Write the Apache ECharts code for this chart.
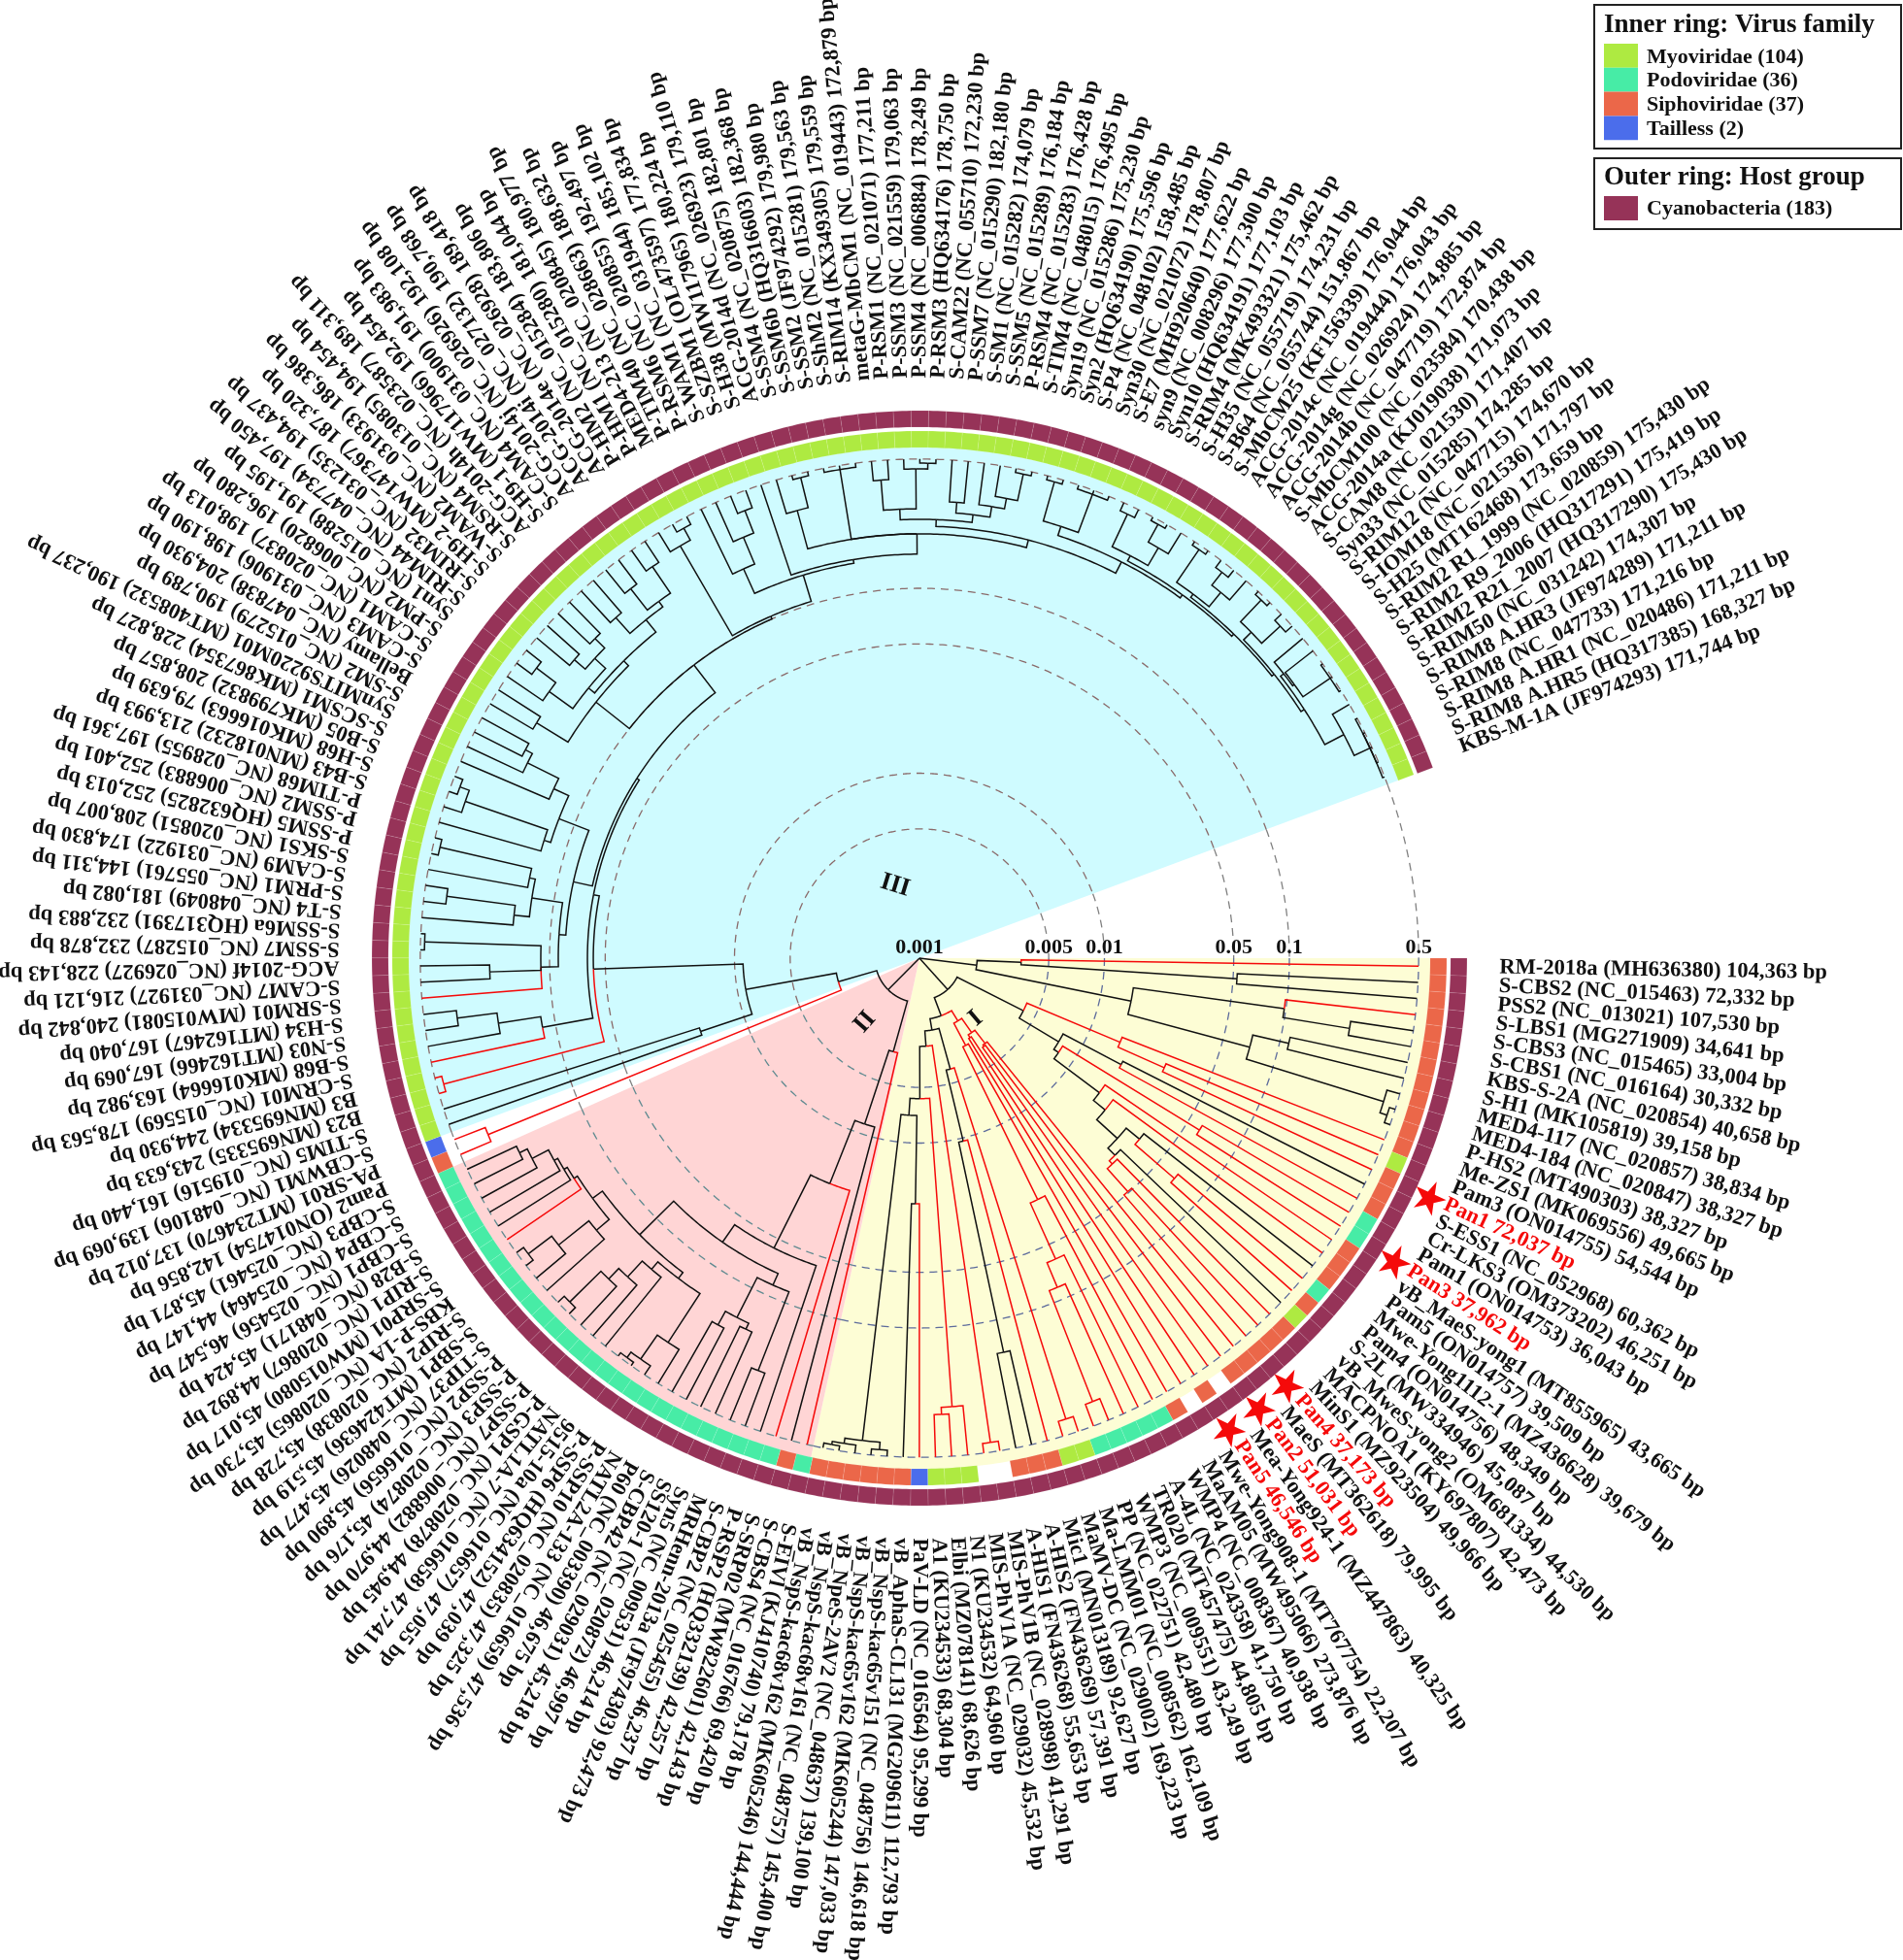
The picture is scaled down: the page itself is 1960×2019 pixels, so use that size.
<!DOCTYPE html>
<html>
<head>
<meta charset="utf-8">
<title>Cyanophage tree</title>
<script src="https://cdn.jsdelivr.net/npm/echarts@6/dist/echarts.min.js"></script>
<style>
html,body{margin:0;background:#fff}
#chart{width:1960px;height:2019px}
</style>
</head>
<body>
<div id="chart"></div>
<script>
// tip labels, clockwise from east
var tipLabels = [
'RM-2018a (MH636380) 104,363 bp','S-CBS2 (NC_015463) 72,332 bp','PSS2 (NC_013021) 107,530 bp','S-LBS1 (MG271909) 34,641 bp','S-CBS3 (NC_015465) 33,004 bp','S-CBS1 (NC_016164) 30,332 bp','KBS-S-2A (NC_020854) 40,658 bp','S-H1 (MK105819) 39,158 bp','MED4-117 (NC_020857) 38,834 bp','MED4-184 (NC_020847) 38,327 bp',
'P-HS2 (MT490303) 38,327 bp','Me-ZS1 (MK069556) 49,665 bp','Pam3 (ON014755) 54,544 bp','Pan1 72,037 bp','S-ESS1 (NC_052968) 60,362 bp','Cr-LKS3 (OM373202) 46,251 bp','Pam1 (ON014753) 36,043 bp','Pan3 37,962 bp','vB_MaeS-yong1 (MT855965) 43,665 bp','Pam5 (ON014757) 39,509 bp',
'Mwe-Yong1112-1 (MZ436628) 39,679 bp','Pam4 (ON014756) 48,349 bp','S-2L (MW334946) 45,087 bp','vB_MweS-yong2 (OM681334) 44,530 bp','MACPNOA1 (KY697807) 42,473 bp','MinS1 (MZ923504) 49,966 bp','Pan4 37,173 bp','MaeS (MT362618) 79,995 bp','Pan2 51,031 bp','Mea-Yong924-1 (MZ447863) 40,325 bp',
'Pan5 46,546 bp','Mwe-Yong908-1 (MT767754) 22,207 bp','MaAM05 (MW495066) 273,876 bp','WMP4 (NC_008367) 40,938 bp','A-4L (NC_024358) 41,750 bp','TR020 (MT457475) 44,805 bp','WMP3 (NC_009551) 43,249 bp','PP (NC_022751) 42,480 bp','Ma-LMM01 (NC_008562) 162,109 bp','MaMV-DC (NC_029002) 169,223 bp',
'Mic1 (MN013189) 92,627 bp','A-HIS2 (FN436269) 57,391 bp','A-HIS1 (FN436268) 55,653 bp','MIS-PhV1B (NC_028998) 41,291 bp','MIS-PhV1A (NC_029032) 45,532 bp','N1 (KU234532) 64,960 bp','Elbi (MZ078141) 68,626 bp','A1 (KU234533) 68,304 bp','PaV-LD (NC_016564) 95,299 bp','vB_AphaS-CL131 (MG209611) 112,793 bp',
'vB_NspS-kac65v151 (NC_048756) 146,618 bp','vB_NspS-kac65v162 (MK605244) 147,033 bp','vB_NpeS-2AV2 (NC_048637) 139,100 bp','vB_NspS-kac68v161 (NC_048757) 145,400 bp','vB_NspS-kac68v162 (MK605246) 144,444 bp','S-EIVl (KJ410740) 79,178 bp','S-CBS4 (NC_016766) 69,420 bp','S-SRP02 (MW822601) 42,143 bp','P-RSP2 (HQ332139) 42,257 bp','S-CBP2 (NC_025455) 46,237 bp',
'MRHenn-2013a (JF974303) 92,473 bp','Syn5 (NC_009531) 46,214 bp','SS120-1 (NC_020872) 46,997 bp','S-CBP42 (NC_029031) 45,218 bp','P60 (NC_003390) 46,675 bp','NATL2A-133 (NC_016659) 47,536 bp','P-SSP10 (NC_020835) 47,325 bp','P-SSP6 (HQ634152) 47,039 bp','9515-10a (NC_016657) 47,055 bp','NATL1A-7 (NC_016658) 47,741 bp',
'P-GSP1 (NC_020878) 44,945 bp','P-SSP7 (NC_006882) 44,970 bp','P-SSP3 (NC_020874) 45,176 bp','P-SSP2 (NC_016656) 45,890 bp','S-TIP37 (NC_048026) 45,477 bp','S-SBP1 (MT424636) 45,519 bp','S-RIP2 (NC_020838) 45,728 bp','KBS-P-1A (NC_020865) 45,730 bp','S-SRP01 (MW015080) 45,017 bp','S-RIP1 (NC_020867) 44,892 bp',
'S-B28 (NC_048171) 45,424 bp','S-CBP1 (NC_025456) 46,547 bp','S-CBP4 (NC_025464) 44,147 bp','S-CBP3 (NC_025461) 45,871 bp','Pam2 (ON014754) 142,856 bp','PA-SR01 (MT234670) 137,012 bp','S-CBWM1 (NC_048106) 139,069 bp','S-TIM5 (NC_019516) 161,440 bp','B23 (MN695335) 243,633 bp','B3 (MN695334) 244,930 bp',
'S-CRM01 (NC_015569) 178,563 bp','S-B68 (MK016664) 163,982 bp','S-N03 (MT162466) 167,069 bp','S-H34 (MT162467) 167,040 bp','S-SRM01 (MW015081) 240,842 bp','S-CAM7 (NC_031927) 216,121 bp','ACG-2014f (NC_026927) 228,143 bp','S-SSM7 (NC_015287) 232,878 bp','S-SSM6a (HQ317391) 232,883 bp','S-T4 (NC_048049) 181,082 bp',
'S-PRM1 (NC_055761) 144,311 bp','S-CAM9 (NC_031922) 174,830 bp','S-SKS1 (NC_020851) 208,007 bp','P-SSM5 (HQ632825) 252,013 bp','P-SSM2 (NC_006883) 252,401 bp','P-TIM68 (NC_028955) 197,361 bp','S-B43 (MN018232) 213,993 bp','S-H68 (MK016663) 79,639 bp','S-B05 (MK799832) 208,857 bp','S-SCSM1 (MK867354) 228,827 bp',
'SynMITS9220M01 (MT408532) 190,237 bp','S-SM2 (NC_015279) 190,789 bp','Bellamy (NC_047838) 204,930 bp','S-CAM3 (NC_031906) 198,190 bp','S-CAM1 (NC_020837) 198,013 bp','S-PM2 (NC_006820) 196,280 bp','Syn1 (NC_015288) 191,195 bp','S-RIM44 (NC_047734) 197,450 bp','S-RIM32 (NC_031235) 194,437 bp','S-H9-2 (MW147367) 187,320 bp',
'S-WAM2 (NC_031933) 186,386 bp','S-RSM4 (NC_013085) 194,454 bp','ACG-2014h (NC_023587) 189,311 bp','S-H9-1 (MW117966) 192,454 bp','S-CAM4 (NC_031900) 191,983 bp','ACG-2014j (NC_026926) 192,108 bp','ACG-2014i (NC_027132) 190,768 bp','ACG-2014e (NC_026928) 189,418 bp','P-HM2 (NC_015284) 183,806 bp','P-HM1 (NC_015280) 181,044 bp',
'MED4-213 (NC_020845) 180,977 bp','P-TIM40 (NC_028663) 188,632 bp','P-RSM6 (NC_020855) 192,497 bp','S-WAM1 (NC_031944) 185,102 bp','S-SZBM1 (OL473597) 177,834 bp','S-H38 (MW117965) 180,224 bp','ACG-2014d (NC_026923) 179,110 bp','S-SSM4 (NC_020875) 182,801 bp','S-SSM6b (HQ316603) 182,368 bp','S-SSM2 (JF974292) 179,980 bp',
'S-ShM2 (NC_015281) 179,563 bp','S-RIM14 (KX349305) 179,559 bp','metaG-MbCM1 (NC_019443) 172,879 bp','P-RSM1 (NC_021071) 177,211 bp','P-SSM3 (NC_021559) 179,063 bp','P-SSM4 (NC_006884) 178,249 bp','P-RSM3 (HQ634176) 178,750 bp','S-CAM22 (NC_055710) 172,230 bp','P-SSM7 (NC_015290) 182,180 bp','S-SM1 (NC_015282) 174,079 bp',
'S-SSM5 (NC_015289) 176,184 bp','P-RSM4 (NC_015283) 176,428 bp','S-TIM4 (NC_048015) 176,495 bp','Syn19 (NC_015286) 175,230 bp','Syn2 (HQ634190) 175,596 bp','S-P4 (NC_048102) 158,485 bp','Syn30 (NC_021072) 178,807 bp','S-E7 (MH920640) 177,622 bp','syn9 (NC_008296) 177,300 bp','Syn10 (HQ634191) 177,103 bp',
'S-RIM4 (MK493321) 175,462 bp','S-H35 (NC_055719) 174,231 bp','S-B64 (NC_055744) 151,867 bp','S-MbCM25 (KF156339) 176,044 bp','ACG-2014c (NC_019444) 176,043 bp','ACG-2014g (NC_026924) 174,885 bp','ACG-2014b (NC_047719) 172,874 bp','S-MbCM100 (NC_023584) 170,438 bp','ACG-2014a (KJ019038) 171,073 bp','S-CAM8 (NC_021530) 171,407 bp',
'Syn33 (NC_015285) 174,285 bp','S-RIM12 (NC_047715) 174,670 bp','S-IOM18 (NC_021536) 171,797 bp','S-H25 (MT162468) 173,659 bp','S-RIM2 R1_1999 (NC_020859) 175,430 bp','S-RIM2 R9_2006 (HQ317291) 175,419 bp','S-RIM2 R21_2007 (HQ317290) 175,430 bp','S-RIM50 (NC_031242) 174,307 bp','S-RIM8 A.HR3 (JF974289) 171,211 bp','S-RIM8 (NC_047733) 171,216 bp',
'S-RIM8 A.HR1 (NC_020486) 171,211 bp','S-RIM8 A.HR5 (HQ317385) 168,327 bp','KBS-M-1A (JF974293) 171,744 bp'
];
var starCells = [14, 18, 27, 29, 31];

// inner ring, clockwise: [family, number of cells]; W = no family
var familyRuns = [['S',12],['M',1],['S',3],['P',2],['S',3],['P',1],['S',1],['M',1],['S',5],['W',1],['S',1],['W',1],['S',1],['P',5],['M',2],['S',3],['W',2],['M',3],['T',1],['S',6],['P',1],['S',1],['P',27],['S',1],['T',1],['M',97]];
var familyNames = {M:'Myoviridae (104)', P:'Podoviridae (36)', S:'Siphoviridae (37)', T:'Tailless (2)'};
var hostNames = ['Cyanobacteria (183)'];

// distance ticks
var distanceTicks = [0.001, 0.005, 0.01, 0.05, 0.1, 0.5];

// tree text: tips are taken in label order, . black tip, r red tip, )0.05 node at that distance, trailing r = red branch
var cladeIa = '((r,(.,.)0.0525)0.00355,((r,(.,.)0.227)0.098,((.,.)0.112,(.,(.,.)0.464)0.423)0.0707)0.0147)0.00205';
var cladeIb = '(((r,(r,r)0.0282r)0.015r,((.,r)0.0171,((r,r)0.0598r,(r,(r,((.,(r,r)0.0664r)0.0347,(.,(r,(r,r)0.0492r)0.0335r)0.0317)0.028)0.0198)0.0164)0.0081)0.00755)0.00426,'
  + '((((r,(r,r)0.0039r)0.00382r,(r,r)0.00323r)0.0031r,(r,(r,(r,(r,(r,r)0.375r)0.0851r)0.061r)0.0284r)0.00342r)0.0025r,'
  + '(((r,r)0.412r,(r,(.,.)0.151)0.0104)0.00419,((r,r)0.443r,((r,(r,r)0.295r)0.27r,((r,.)0.0213,((.,.)0.464,(.,(.,.)0.47)0.452)0.423)0.0071)0.00575)0.003)0.00248)0.00215)0.00169';
var cladeII = '(r,(.,(r,(.,(((.,.)0.248,((.,.)0.164,(.,.)0.183)0.151)0.0865,'
  + '(((.,(.,(.,.)0.475)0.437)0.304,(.,(.,(.,(.,.)0.448)0.26)0.217)0.166)0.147,'
  + '((.,(.,(.,.)0.448)0.311)0.192,(r,(.,(.,(.,(.,.)0.254)0.228)0.181)0.172)0.164)0.156)0.134)0.0739)0.0567)0.0205)0.0088)0.00335';
var cladeIIIbase = '((r,r)0.331r,((.,.)0.0177,((r,r)0.458r,((r,(.,(.,.)0.331)0.201)0.118,';
var cladeIIIleft = '(((r,(.,.)0.211,(.,.)0.475)0.1115,((.,(.,.)0.378)0.16,(.,(.,.)0.458)0.142)0.132)0.0897,'
  + '((.,(.,(.,.)0.448)0.396)0.134,(.,(.,(.,.)0.257)0.233)0.151)0.123)0.0824';
var cladeIIImid = '(((.,.)0.269,(((.,(.,.)0.396)0.293,((.,.)0.293,(.,.)0.29)0.245)0.204,((.,.)0.293,((.,.)0.343,(.,.)0.365)0.245)0.225)0.185)0.17,'
  + '((.,(.,.)0.448)0.378,((.,(.,(.,.)0.396)0.293)0.204,';
var cladeIIItop = '(.,((.,(.,.)0.475)0.323,(.,.,.)0.475,'
  + '((((.,.)0.392,(.,(.,.)0.475)0.442)0.269,((.,.)0.297,(.,(.,(.,.)0.475)0.339)0.297)0.26)0.236,'
  + '(((.,.)0.475,(.,.,.)0.475)0.286,(((.,.)0.448,((.,.)0.475,.)0.369)0.286,'
  + '(((.,.)0.475,((.,.)0.448,.)0.365)0.29,'
  + '(((.,.)0.475,(.,.)0.448)0.327,((.,(.,(.,.,.)0.487)0.323)0.315,(.,(.,.,.,.,.)0.487)0.392)0.3)0.286)0.276)0.266)0.254)0.217)0.197)0.153';
var treeText = '(' + cladeIa + ',' + cladeIb + ',(' + cladeII + ',' + cladeIIIbase + '(' + cladeIIIleft + ',' + cladeIIImid + cladeIIItop
  + ')0.146)0.1037)0.1)0.0647)0.0624)0.058)0.009)0.00286)0.00174)0.001';

// layout, in axis units
var fullTurn = 193.97;       // cells in a full circle
var tipDistance = 0.5;
var fillDistance = 0.58;
var famRing = [0.577, 0.709];
var hostRing = [0.744, 0.913];
var starDistance = 1.11;
var labelDistance = 1.37;
var fills = [[0, 55.1, '#FDFDD5'], [55.1, 84, '#FFD5D5'], [86, 183, '#CFFBFF']];
var dashZones = [[0, 55.1, '#5d6b9c'], [55.1, 84, '#5f8a90'], [84, 86, '#808080'], [86, 183, '#8a6a6a'], [183, fullTurn, '#808080']];
var famColors = {M:'#AEEA41', P:'#47ECA6', S:'#EB6749', T:'#4B6DEB'};
var hostColor = '#963358';
var cellEdge = 'rgba(255,255,255,0.1)';

// parse the tree text
function parseTree(text) {
    var pos = 0, tip = 0;
    function node() {
        var c = text[pos];
        if (c === '.' || c === 'r') {
            pos++;
            tip++;
            return {angle: tip - 0.5, dist: tipDistance, red: c === 'r', kids: []};
        }
        pos++; // (
        var kids = [node()];
        while (text[pos] === ',') { pos++; kids.push(node()); }
        pos++; // )
        var start = pos;
        while (/[0-9.]/.test(text[pos] || '')) pos++;
        var dist = parseFloat(text.slice(start, pos));
        var red = false;
        if (text[pos] === 'r') { red = true; pos++; }
        return {angle: (kids[0].angle + kids[kids.length - 1].angle) / 2, dist: dist, red: red, kids: kids};
    }
    return node();
}

function arcPoints(dist, a0, a1) {
    var n = Math.max(1, Math.ceil(Math.abs(a1 - a0) / 0.25)), pts = [];
    for (var i = 0; i <= n; i++) pts.push([dist, a0 + (a1 - a0) * i / n]);
    return pts;
}

// each child gets its stem plus the half of the parent's arc that leads to it
var segments = [];
function collect(n) {
    n.kids.forEach(function (k) {
        var pts = arcPoints(n.dist, n.angle, k.angle);
        pts.push([k.dist, k.angle]);
        segments.push({pts: pts, color: k.red ? '#F50A0A' : '#111111'});
        collect(k);
    });
}
collect(parseTree(treeText));

var famCells = [];
familyRuns.forEach(function (run) {
    for (var i = 0; i < run[1]; i++) famCells.push(run[0]);
});

function sectorPoints(r0, r1, a0, a1) {
    return arcPoints(r1, a0, a1).concat(arcPoints(r0, a1, a0));
}

function polygonItem(api, pts, fill, stroke) {
    return {
        type: 'polygon',
        shape: {points: pts.map(function (p) { return api.coord(p); })},
        style: {fill: fill, stroke: stroke || null, lineWidth: 1}
    };
}

var myChart = echarts.init(document.getElementById('chart'));
var serif = '"Liberation Serif", "Times New Roman", serif';

var legendItems = [];
var famKeys = ['M', 'P', 'S', 'T'];
famKeys.forEach(function (k, i) {
    legendItems.push({type: 'rect', shape: {x: 1652, y: 45 + i * 24.8, width: 35, height: 24.8}, style: {fill: famColors[k]}});
    legendItems.push({type: 'text', x: 1696, y: 59 + i * 24.8, style: {text: familyNames[k], font: 'bold 22px ' + serif, fill: '#111', textVerticalAlign: 'middle'}});
});

function romanLabel(text, x, y, rot) {
    return {type: 'text', z: 20, x: x, y: y, rotation: rot, style: {text: text, font: 'bold 26px ' + serif, fill: '#111', textAlign: 'center', textVerticalAlign: 'middle'}};
}

myChart.setOption({
    animation: false,
    backgroundColor: '#fff',
    polar: {center: [947, 987], radius: 762},
    radiusAxis: {type: 'log', logBase: 10, min: 0.001, max: 10, show: false},
    angleAxis: {type: 'value', min: 0, max: fullTurn, startAngle: 0, clockwise: true, show: false},
    graphic: legendItems.concat([
        {type: 'rect', shape: {x: 1642, y: 5, width: 316, height: 148}, style: {fill: 'none', stroke: '#222', lineWidth: 2}},
        {type: 'text', x: 1652, y: 26, style: {text: 'Inner ring: Virus family', font: 'bold 27px ' + serif, fill: '#111', textVerticalAlign: 'middle'}},
        {type: 'rect', shape: {x: 1642, y: 163, width: 316, height: 73}, style: {fill: 'none', stroke: '#222', lineWidth: 2}},
        {type: 'text', x: 1652, y: 183, style: {text: 'Outer ring: Host group', font: 'bold 27px ' + serif, fill: '#111', textVerticalAlign: 'middle'}},
        {type: 'rect', shape: {x: 1652, y: 202, width: 35, height: 25}, style: {fill: hostColor}},
        {type: 'text', x: 1696, y: 215, style: {text: hostNames[0], font: 'bold 22px ' + serif, fill: '#111', textVerticalAlign: 'middle'}},
        romanLabel('I', 1005, 1049, 0.7),
        romanLabel('II', 891, 1053, 0.85),
        romanLabel('III', 922, 912, -0.3)
    ]),
    series: [
        {
            // clade backgrounds
            type: 'custom', coordinateSystem: 'polar', silent: true, z: 1,
            data: fills.map(function (f) { return [fillDistance, f[0]]; }),
            renderItem: function (params, api) {
                var f = fills[params.dataIndex];
                return polygonItem(api, [[0.001, f[0]]].concat(arcPoints(fillDistance, f[0], f[1])), f[2]);
            }
        },
        {
            // dashed distance circles, one piece per background colour
            type: 'custom', coordinateSystem: 'polar', silent: true, z: 2,
            data: distanceTicks.slice(1).map(function (t) { return [t, 0]; }),
            renderItem: function (params, api) {
                var t = distanceTicks[params.dataIndex + 1];
                return {
                    type: 'group',
                    children: dashZones.map(function (z) {
                        return {
                            type: 'polyline',
                            shape: {points: arcPoints(t, z[0], z[1]).map(function (p) { return api.coord(p); })},
                            style: {fill: null, stroke: z[2], lineWidth: 1.3, lineDash: [8, 6]}
                        };
                    })
                };
            }
        },
        {
            // branches
            type: 'custom', coordinateSystem: 'polar', silent: true, z: 3,
            data: segments.map(function (s) { return s.pts[0]; }),
            renderItem: function (params, api) {
                var s = segments[params.dataIndex];
                return {
                    type: 'polyline',
                    shape: {points: s.pts.map(function (p) { return api.coord(p); })},
                    style: {fill: null, stroke: s.color, lineWidth: 1.5, lineJoin: 'miter'}
                };
            }
        },
        {
            // inner ring
            type: 'custom', coordinateSystem: 'polar', silent: true, z: 4,
            data: famCells.map(function (f, i) { return [famRing[0], i + 0.5]; }),
            renderItem: function (params, api) {
                var k = famCells[params.dataIndex], i = params.dataIndex;
                if (k === 'W') return null;
                return polygonItem(api, sectorPoints(famRing[0], famRing[1], i, i + 1), famColors[k], cellEdge);
            }
        },
        {
            // outer ring
            type: 'custom', coordinateSystem: 'polar', silent: true, z: 4,
            data: tipLabels.map(function (t, i) { return [hostRing[0], i + 0.5]; }),
            renderItem: function (params, api) {
                var i = params.dataIndex;
                return polygonItem(api, sectorPoints(hostRing[0], hostRing[1], i, i + 1), hostColor, cellEdge);
            }
        },
        {
            type: 'scatter', coordinateSystem: 'polar', silent: true, z: 5,
            symbol: 'path://M50 0L61 35L98 35L68 57L79 91L50 70L21 91L32 57L2 35L39 35Z',
            symbolSize: 34, symbolRotate: -25,
            itemStyle: {color: '#F50A0A', opacity: 1},
            data: starCells.map(function (c) { return [starDistance, c - 0.5]; })
        },
        {
            // tip labels, turned with the radius
            type: 'custom', coordinateSystem: 'polar', silent: true, z: 6,
            data: tipLabels.map(function (t, i) { return [labelDistance, i + 0.5]; }),
            renderItem: function (params, api) {
                var t = tipLabels[params.dataIndex];
                var a = params.dataIndex + 0.5;
                var c = api.coord([labelDistance, a]);
                return {
                    type: 'text', x: c[0], y: c[1],
                    rotation: -a / fullTurn * 2 * Math.PI,
                    style: {text: t, font: 'bold 22.5px ' + serif, fill: /^Pan\d/.test(t) ? '#F50A0A' : '#111', textAlign: 'left', textVerticalAlign: 'middle'}
                };
            }
        },
        {
            // distance tick labels
            type: 'custom', coordinateSystem: 'polar', silent: true, z: 6,
            data: distanceTicks.map(function (t) { return [t, 0]; }),
            renderItem: function (params, api) {
                var t = distanceTicks[params.dataIndex];
                var c = api.coord([t, 0]);
                return {
                    type: 'text', x: c[0], y: c[1] - 11,
                    style: {text: String(t), font: 'bold 22px ' + serif, fill: '#111', textAlign: 'center', textVerticalAlign: 'middle'}
                };
            }
        }
    ]
});
</script>
</body>
</html>
